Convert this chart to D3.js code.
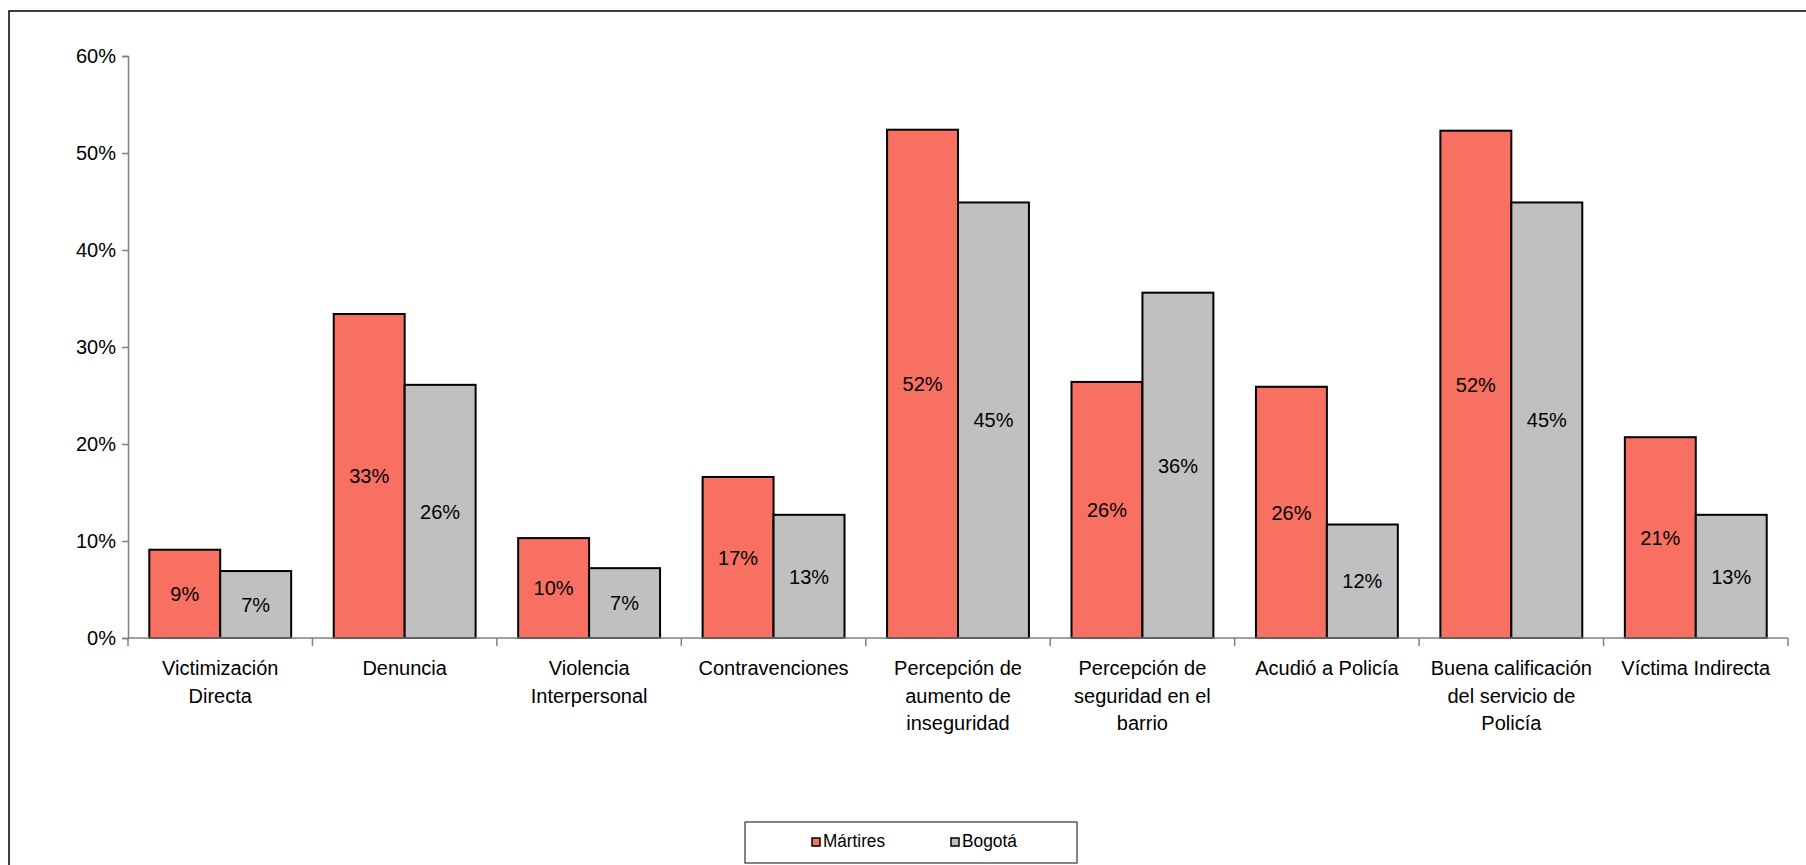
<!DOCTYPE html>
<html lang="es">
  <head>
    <meta charset="utf-8" />
    <script src="https://cdn.jsdelivr.net/npm/d3@7/dist/d3.min.js"></script>
    <title>Mártires vs Bogotá</title>
    <style>
      body { margin: 0; background: #fff; }
      text { font-family: "Liberation Sans", Arial, sans-serif; fill: #000; }
    </style>
  </head>
  <body>
    <div id="container"></div>

    <script>
      // data
      const categories = [
        ["Victimización", "Directa"],
        ["Denuncia"],
        ["Violencia", "Interpersonal"],
        ["Contravenciones"],
        ["Percepción de", "aumento de", "inseguridad"],
        ["Percepción de", "seguridad en el", "barrio"],
        ["Acudió a Policía"],
        ["Buena calificación", "del servicio de", "Policía"],
        ["Víctima Indirecta"]
      ];
      const series = ["Mártires", "Bogotá"];
      const martires = [0.091, 0.334, 0.103, 0.166, 0.524, 0.264, 0.259, 0.523, 0.207];
      const bogota = [0.069, 0.261, 0.072, 0.127, 0.449, 0.356, 0.117, 0.449, 0.127];
      const yTicks = [0, 0.1, 0.2, 0.3, 0.4, 0.5, 0.6];
      const colors = ["#f87061", "#c0c0c0"];

      const width = 1806;
      const height = 865;

      const svg = d3.select("#container").append("svg").attr("width", width).attr("height", height);

      // outer frame (runs off the right and bottom edges)
      svg.append("rect")
        .attr("x", 9).attr("y", 11)
        .attr("width", width + 20).attr("height", height + 20)
        .attr("fill", "none").attr("stroke", "#000").attr("stroke-width", 1.5);

      const keys = categories.map((d) => d.join(" "));
      const x0 = d3.scaleBand().domain(keys).range([128, 1788]);
      const x1 = d3.scaleBand().domain(series).range([0, x0.bandwidth()]).paddingOuter(0.3);
      const y = d3.scaleLinear().domain([0, 0.6]).range([638, 56]);

      // y axis
      const yAxis = svg.append("g")
        .attr("transform", "translate(128,0)")
        .call(d3.axisLeft(y).tickValues(yTicks).tickSize(6).tickPadding(6).tickFormat(d3.format(".0%")));
      yAxis.select(".domain").attr("stroke", "#808080").attr("stroke-width", 1.5);
      yAxis.selectAll(".tick line").attr("stroke", "#808080").attr("stroke-width", 1.5);
      yAxis.selectAll(".tick text").attr("font-size", 20).attr("font-family", "Liberation Sans, Arial, sans-serif").attr("fill", "#000");

      // bars
      const rows = keys.map((k, i) => ({ key: k, values: [martires[i], bogota[i]] }));
      const groups = svg.append("g").selectAll("g").data(rows).join("g")
        .attr("transform", (d) => `translate(${x0(d.key)},0)`);

      groups.selectAll("rect").data((d) => d.values.map((v, j) => ({ s: series[j], v, j }))).join("rect")
        .attr("x", (d) => x1(d.s))
        .attr("y", (d) => y(d.v))
        .attr("width", x1.bandwidth())
        .attr("height", (d) => y(0) - y(d.v))
        .attr("fill", (d) => colors[d.j])
        .attr("stroke", "#000")
        .attr("stroke-width", 2);

      groups.selectAll("text.val").data((d) => d.values.map((v, j) => ({ s: series[j], v, j }))).join("text")
        .attr("class", "val")
        .attr("x", (d) => x1(d.s) + x1.bandwidth() / 2)
        .attr("y", (d) => (y(d.v) + y(0)) / 2)
        .attr("dy", "0.36em")
        .attr("text-anchor", "middle")
        .attr("font-size", 20)
        .text((d) => Math.round(d.v * 100) + "%");

      // x axis
      const xAxis = svg.append("g");
      xAxis.append("line")
        .attr("x1", x0.range()[0]).attr("x2", x0.range()[1])
        .attr("y1", y(0)).attr("y2", y(0))
        .attr("stroke", "#808080").attr("stroke-width", 1.5);
      xAxis.selectAll("line.tick").data(keys.concat(["end"])).join("line")
        .attr("class", "tick")
        .attr("x1", (d) => (d === "end" ? x0.range()[1] : x0(d)))
        .attr("x2", (d) => (d === "end" ? x0.range()[1] : x0(d)))
        .attr("y1", y(0)).attr("y2", y(0) + 8)
        .attr("stroke", "#808080").attr("stroke-width", 1.5);

      const labels = xAxis.selectAll("text").data(categories).join("text")
        .attr("text-anchor", "middle")
        .attr("font-size", 20)
        .attr("x", (d, i) => x0(keys[i]) + x0.bandwidth() / 2)
        .attr("y", 675);
      labels.selectAll("tspan").data((d) => d).join("tspan")
        .attr("x", function () { return this.parentNode.getAttribute("x"); })
        .attr("dy", (d, i) => (i === 0 ? 0 : 27.5))
        .text((d) => d);

      // legend
      const legend = svg.append("g");
      legend.append("rect")
        .attr("x", 745).attr("y", 822).attr("width", 332).attr("height", 41)
        .attr("fill", "#fff").attr("stroke", "#333").attr("stroke-width", 1.2);
      const legendX = [812, 951];
      const items = legend.selectAll("g").data(series).join("g")
        .attr("transform", (d, i) => `translate(${legendX[i]},838)`);
      items.append("rect")
        .attr("width", 8).attr("height", 8)
        .attr("fill", (d, i) => colors[i]).attr("stroke", "#000").attr("stroke-width", 1.5);
      items.append("text")
        .attr("x", 11).attr("y", 9)
        .attr("font-size", 18)
        .attr("textLength", (d, i) => (i === 0 ? 62 : 55))
        .attr("lengthAdjust", "spacingAndGlyphs")
        .text((d) => d);
    </script>
  </body>
</html>
